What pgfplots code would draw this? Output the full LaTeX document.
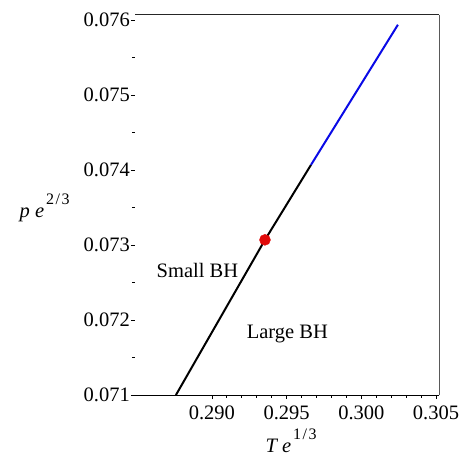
\documentclass[border=0pt]{standalone}
\usepackage{fontspec}
\setmainfont{Liberation Serif}
\usepackage{pgfplots}
\pgfplotsset{compat=1.18}

\newcommand{\lbl}{\fontsize{20.5}{24}\selectfont}
\newcommand{\sx}[1]{\kern2pt\raisebox{0.62em}{\fontsize{16}{18}\selectfont #1}}

\definecolor{curveblue}{RGB}{10,10,230}
\definecolor{dotred}{RGB}{225,10,10}

\begin{document}
\begin{tikzpicture}
\begin{axis}[
  scale only axis, width=304pt, height=380pt,
  xmin=0.28485, xmax=0.3052, ymin=0.071, ymax=0.07607,
  axis line style={draw=none},
  scaled ticks=false,
  xtick={0.290,0.295,0.300,0.305},
  ytick={0.071,0.072,0.073,0.074,0.075,0.076},
  minor x tick num=4, minor y tick num=1,
  tick align=outside,
  xtick pos=bottom, ytick pos=left,
  major tick length=4pt, minor tick length=2.5pt,
  tick style={black, line width=0.8pt},
  /pgf/number format/assume math mode=true,
  ticklabel style={font=\lbl, inner sep=1pt,
    /pgf/number format/fixed, /pgf/number format/fixed zerofill,
    /pgf/number format/precision=3},
  xticklabel style={yshift=-6pt},
  every axis y label/.style={at={(rel axis cs:-0.391,0.468)}, anchor=base west},
  every axis x label/.style={at={(rel axis cs:0.418,-0.150)}, anchor=base west},
  ylabel={\lbl\textit{p e}\sx{2\kern1.5pt/\kern1.5pt3}},
  xlabel={\lbl\textit{T e}\sx{1\kern1.5pt/\kern1.5pt3}},
  clip=false,
]
% frame: bottom, right and top edges only
\draw[black, line width=1pt] (rel axis cs:0,0) -- (rel axis cs:1,0);
\draw[black!65, line width=1pt] (rel axis cs:1,0) -- (rel axis cs:1,1);
\draw[black!85, line width=1pt] (rel axis cs:1,1) -- (rel axis cs:0,1);

% coexistence line: small/large black hole branch
\addplot[black, line width=2pt] coordinates {
  (0.28759,0.07100) (0.29355,0.07307) (0.29663,0.07407)
};
% continuation above
\addplot[curveblue, line width=2pt] coordinates {
  (0.29663,0.07407) (0.30245,0.07594)
};
% marked point
\addplot[only marks, mark=*, mark size=5.5pt, color=dotred,
  mark options={draw=dotred, fill=dotred}] coordinates {(0.29355,0.07307)};

\node[font=\lbl, anchor=base] at (axis cs:0.28903,0.072567) {Small BH};
\node[font=\lbl, anchor=base] at (axis cs:0.29505,0.071753) {Large BH};
\end{axis}
\path (current axis.south west) ++(-135pt,-60pt) rectangle ++(462pt,455pt);
\end{tikzpicture}
\end{document}
